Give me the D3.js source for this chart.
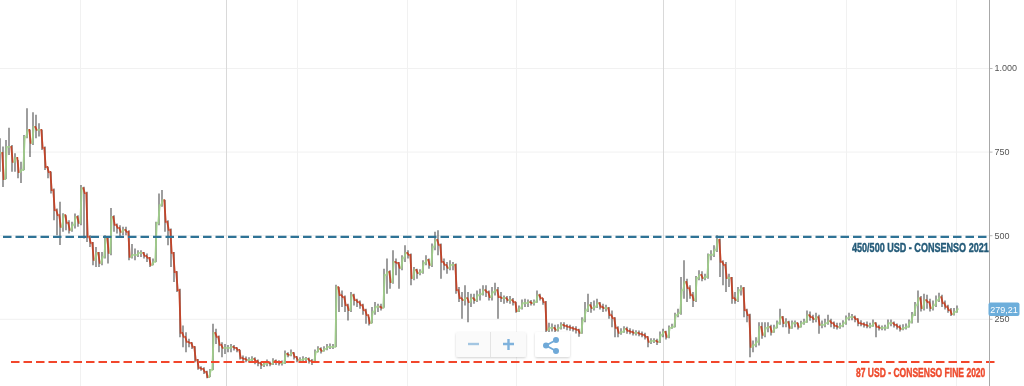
<!DOCTYPE html>
<html>
<head>
<meta charset="utf-8">
<script src="https://cdn.jsdelivr.net/npm/d3@7"></script>
<style>
	html, body { margin: 0; padding: 0; background: #fff; overflow: hidden; }
	svg { display: block; filter: blur(0.4px); }
</style>
</head>
<body>
<svg id="svg_1" width="1024" height="386"></svg>
<script>
// one candle every 3 px
var closes = [
	746,668,764,764,719,731,689,695,794,815,
	776,824,815,815,761,704,689,635,575,560,
	525,560,537,516,531,555,537,641,626,495,
	477,426,447,417,435,492,447,555,531,522,
	510,516,510,435,441,441,447,447,438,432,
	411,420,537,590,605,540,516,447,390,336,
	208,196,181,178,166,127,103,100,91,76,
	97,208,196,172,163,163,163,166,163,157,
	133,130,127,127,130,124,118,112,115,118,
	115,124,121,118,118,145,142,148,136,127,
	127,130,130,124,121,151,160,154,160,166,
	166,166,345,321,315,291,276,321,306,300,
	291,276,261,237,271,286,286,283,381,390,
	360,420,417,402,432,447,441,372,396,387,
	390,417,426,411,465,486,471,420,411,402,
	411,411,336,312,306,312,300,312,306,321,
	324,336,330,315,330,336,315,312,312,306,
	306,300,273,282,297,297,300,297,300,321,
	312,300,217,223,223,217,223,232,229,226,
	223,220,217,208,246,276,291,282,286,297,
	286,282,282,261,252,223,208,211,220,214,
	211,208,208,205,202,196,181,184,184,181,
	202,211,196,223,226,261,267,336,360,342,
	321,306,372,381,372,375,441,441,456,486,
	420,411,372,372,312,306,336,342,276,261,
	166,172,181,226,202,223,226,211,223,237,
	255,237,240,223,237,237,226,237,240,261,
	255,249,255,232,232,237,243,237,229,226,
	229,237,252,255,255,249,237,235,232,229,
	229,237,226,223,223,223,237,237,232,226,
	220,223,226,240,261,291,312,282,306,300,
	282,291,306,315,297,286,276,264,271,279
];
var highs = [
	790,765,785,821,770,745,725,720,800,880,
	815,868,860,835,815,765,705,690,640,580,
	600,566,560,545,540,565,560,650,645,630,
	500,480,465,450,450,500,495,581,560,535,
	530,525,525,515,474,460,455,455,450,445,
	435,430,540,625,635,605,545,520,450,392,
	340,230,210,190,180,168,130,108,105,95,
	100,235,220,200,180,175,172,175,172,165,
	157,140,137,135,138,135,128,122,122,128,
	122,132,128,126,125,155,150,158,150,138,
	135,138,136,134,130,158,168,165,168,175,
	176,175,352,345,335,320,295,330,325,310,
	305,295,280,255,285,300,295,295,400,430,
	395,455,430,420,440,470,455,445,405,400,
	398,425,440,430,475,510,515,475,430,420,
	425,420,415,345,330,350,330,325,325,335,
	340,350,350,335,345,358,345,330,320,318,
	318,312,300,290,308,310,308,306,308,335,
	325,312,303,238,236,232,234,240,240,234,
	232,228,228,220,255,300,325,300,305,310,
	300,295,292,285,275,255,228,222,228,226,
	222,218,216,215,212,208,198,192,192,190,
	212,220,214,230,235,268,280,375,425,370,
	350,330,378,395,392,385,445,455,470,500,
	490,425,420,385,375,330,345,350,345,280,
	265,185,195,240,240,240,240,232,232,245,
	280,258,252,244,245,245,238,244,250,275,
	272,262,268,262,245,250,262,250,242,238,
	238,246,260,268,264,260,252,246,240,242,
	238,248,240,232,230,232,248,248,242,236,
	232,234,236,248,270,300,335,318,325,322,
	310,305,320,328,322,305,292,282,282,290
];
var lows = [
	690,644,668,740,690,690,670,656,695,790,
	734,770,790,795,755,695,670,625,545,500,
	471,510,515,505,510,520,525,530,490,480,
	465,410,405,405,410,430,415,440,510,505,
	495,500,500,425,430,425,435,435,430,420,
	405,410,420,530,585,510,470,405,360,330,
	195,165,150,165,160,120,98,95,85,72,
	76,97,175,150,135,145,150,150,155,150,
	128,124,120,120,122,114,108,100,106,108,
	108,112,112,110,110,115,135,138,128,120,
	120,122,122,116,112,121,150,146,152,156,
	160,160,166,270,285,270,245,270,290,285,
	280,262,235,230,237,262,270,275,283,325,
	340,355,380,340,395,420,430,350,365,370,
	380,385,410,400,405,455,440,370,395,385,
	395,395,325,300,250,290,240,285,295,300,
	305,320,315,305,305,320,250,300,295,298,
	295,290,268,270,278,285,285,290,290,298,
	305,292,200,210,212,208,212,218,220,216,
	214,212,206,196,205,240,270,268,275,282,
	278,270,272,250,225,195,195,202,208,205,
	204,200,200,198,195,188,165,175,178,172,
	178,195,188,192,220,225,255,262,310,300,
	310,285,300,365,362,365,370,425,435,450,
	375,350,330,345,295,295,300,320,255,240,
	135,150,165,170,190,195,210,200,208,222,
	232,225,225,205,220,225,218,224,232,238,
	244,238,240,205,222,225,232,225,220,218,
	220,225,232,245,246,240,228,228,224,222,
	222,226,195,215,216,215,220,228,224,218,
	212,216,218,224,236,258,238,272,275,280,
	272,275,285,300,285,278,268,258,260,268
];
var y_ticks = [250, 500, 750, 1000];
var y_tick_labels = ["250", "500", "750", "1.000"];
var last_value = "279,21";
var upper_value = 495;
var lower_value = 121;
var upper_label = "450/500 USD - CONSENSO 2021";
var lower_label = "87 USD - CONSENSO FINE 2020";
// vertical grid positions, in candle index
var strong_grid = [75.4, 221];
var light_grid = [26.5, 99, 135.7, 172, 245, 282, 318.7];

var svg = d3.select("#svg_1");
var plot_right = 989;

var x = d3.scaleLinear().domain([0, closes.length - 1]).range([0, 957]);
var y = d3.scaleLinear().domain([0, 1000]).range([402.4, 68]);

// grid
svg.append("g").selectAll("line")
	.data(y_ticks)
	.enter().append("line")
	.attr("x1", 0).attr("x2", plot_right)
	.attr("y1", d => y(d) + 0.5).attr("y2", d => y(d) + 0.5)
	.attr("stroke", "#f1f1f1");

svg.append("g").selectAll("line")
	.data(light_grid)
	.enter().append("line")
	.attr("x1", d => Math.round(x(d)) + 0.5).attr("x2", d => Math.round(x(d)) + 0.5)
	.attr("y1", 0).attr("y2", 386)
	.attr("stroke", "#f1f1f1");

svg.append("g").selectAll("line")
	.data(strong_grid)
	.enter().append("line")
	.attr("x1", d => Math.round(x(d)) + 0.5).attr("x2", d => Math.round(x(d)) + 0.5)
	.attr("y1", 0).attr("y2", 386)
	.attr("stroke", "#d9d9d9");

// candles
var candles = closes.map((c, i) => ({
	i: i,
	open: i == 0 ? c : closes[i - 1],
	close: c,
	high: highs[i],
	low: lows[i]
}));

svg.append("g").selectAll("line")
	.data(candles)
	.enter().append("line")
	.attr("x1", d => x(d.i)).attr("x2", d => x(d.i))
	.attr("y1", d => y(d.high)).attr("y2", d => y(d.low))
	.attr("stroke", "#333")
	.attr("stroke-opacity", 0.8)
	.attr("stroke-width", 1.2);

svg.append("g").selectAll("path")
	.data(candles)
	.enter().append("path")
	.attr("d", d => "M" + (x(d.i) - 1.5) + "," + y(d.open) + "H" + (x(d.i) - 0.7)
		+ "L" + (x(d.i) + 0.7) + "," + y(d.close) + "H" + (x(d.i) + 1.5))
	.attr("fill", "none")
	.attr("stroke", d => d.close >= d.open ? "#9fcc8a" : "#c2452a")
	.attr("stroke-width", 1.8);

// consensus lines
svg.append("line")
	.attr("x1", 3).attr("x2", plot_right)
	.attr("y1", y(upper_value)).attr("y2", y(upper_value))
	.attr("stroke", "#2f7396")
	.attr("stroke-width", 2.4)
	.attr("stroke-dasharray", "8.5,4");

svg.append("line")
	.attr("x1", 11).attr("x2", 996)
	.attr("y1", y(lower_value)).attr("y2", y(lower_value))
	.attr("stroke", "#f2462b")
	.attr("stroke-width", 2)
	.attr("stroke-dasharray", "8.5,4");

// the labels are a very condensed face, so squeeze them to the width they have
function condensed_label(txt, left, base, width, color) {
	var t = svg.append("text")
		.attr("font-family", "'Liberation Sans', Arial, sans-serif")
		.attr("font-weight", "bold")
		.attr("font-size", 13)
		.attr("fill", color)
		.attr("stroke", color)
		.attr("stroke-width", 0.45)
		.text(txt);
	var k = width / t.node().getComputedTextLength();
	t.attr("transform", "translate(" + left + "," + base + ") scale(" + k + ",1)");
}
condensed_label(upper_label, 852, 252, 137, "#235a78");
condensed_label(lower_label, 856, 377, 129.5, "#ee4a2c");

// right axis
var y_axis = d3.axisRight(y)
	.tickValues(y_ticks)
	.tickFormat(d => y_tick_labels[y_ticks.indexOf(d)])
	.tickSize(3)
	.tickPadding(2);

var axis_g = svg.append("g")
	.attr("transform", "translate(" + (plot_right + 0.5) + ",0)")
	.call(y_axis);
axis_g.select(".domain").remove();
axis_g.selectAll("line").attr("stroke", "#bbb");
axis_g.selectAll("text")
	.attr("font-family", "'Liberation Sans', Arial, sans-serif")
	.attr("font-size", 9)
	.attr("fill", "#555");

svg.append("line")
	.attr("x1", plot_right + 0.5).attr("x2", plot_right + 0.5)
	.attr("y1", 0).attr("y2", 386)
	.attr("stroke", "#a8a8a8");

// last price tag
svg.append("rect")
	.attr("x", 988.5).attr("y", 302.5)
	.attr("width", 31).attr("height", 13.5)
	.attr("rx", 2)
	.attr("fill", "#6daedb");
svg.append("text")
	.attr("x", 1004).attr("y", 312.5)
	.attr("text-anchor", "middle")
	.attr("font-family", "'Liberation Sans', Arial, sans-serif")
	.attr("font-size", 9)
	.attr("fill", "#fff")
	.text(last_value);

// zoom and share buttons
var shadow = svg.append("defs").append("filter").attr("id", "btn_shadow")
	.attr("x", "-10%").attr("y", "-20%").attr("width", "120%").attr("height", "150%");
shadow.append("feDropShadow")
	.attr("dx", 0).attr("dy", 1).attr("stdDeviation", 1)
	.attr("flood-color", "#000").attr("flood-opacity", 0.18);

svg.append("rect")
	.attr("x", 456).attr("y", 332).attr("width", 70).attr("height", 25)
	.attr("rx", 2)
	.attr("fill", "#fafafa")
	.attr("filter", "url(#btn_shadow)");
svg.append("line")
	.attr("x1", 490.5).attr("x2", 490.5).attr("y1", 332).attr("y2", 357)
	.attr("stroke", "#e4e4e4");
svg.append("rect")
	.attr("x", 535).attr("y", 332).attr("width", 35).attr("height", 25)
	.attr("rx", 2)
	.attr("fill", "#fff")
	.attr("filter", "url(#btn_shadow)");

svg.append("path")
	.attr("d", "M468,344H479")
	.attr("stroke", "#a3c6e2").attr("stroke-width", 2.4);
svg.append("path")
	.attr("d", "M503,344H514M508.5,339V350")
	.attr("stroke", "#7fb2dc").attr("stroke-width", 2.4);
svg.append("path")
	.attr("d", "M556,340L546,345.500L556,351")
	.attr("fill", "none")
	.attr("stroke", "#6fa9d8").attr("stroke-width", 1.8);
svg.selectAll("circle.share")
	.data([[556, 340], [546, 345.5], [556, 351]])
	.enter().append("circle")
	.attr("class", "share")
	.attr("cx", d => d[0]).attr("cy", d => d[1])
	.attr("r", 3)
	.attr("fill", "#6fa9d8");
</script>
</body>
</html>
